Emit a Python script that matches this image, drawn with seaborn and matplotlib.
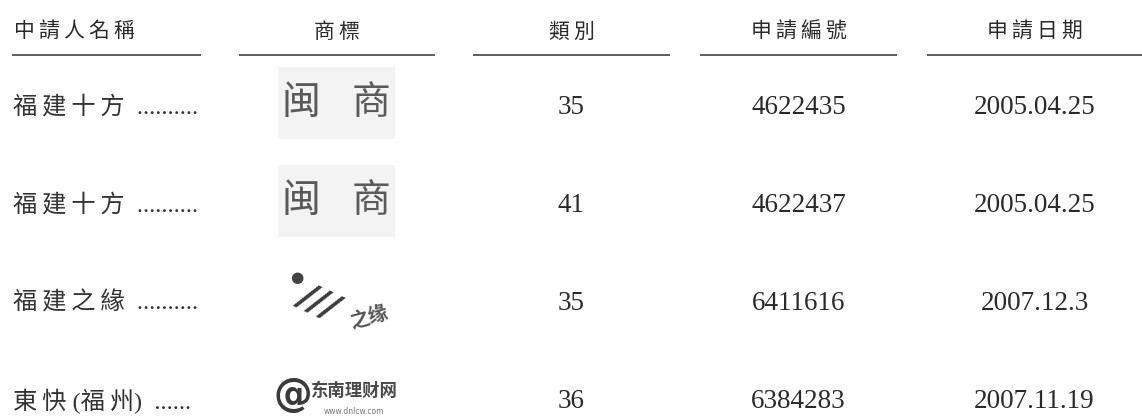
import matplotlib
matplotlib.use("Agg")
import matplotlib.pyplot as plt
import seaborn as sns
import pandas as pd

# table content
headers = ["中請人名稱", "商標", "類別", "申請編號", "申請日期"]
applicants = ["福建十方", "福建十方", "福建之緣", "東快 (福州)"]
leaders = ["  ..........", "  ..........", "  ..........", "  ......"]
classes = ["35", "41", "35", "36"]
app_numbers = ["4622435", "4622437", "6411616", "6384283"]
app_dates = ["2005.04.25", "2005.04.25", "2007.12.3", "2007.11.19"]
logo_texts = ["闽商", "闽商", "之缘", "东南理财网"]

df = pd.DataFrame({
    "applicant": applicants,
    "leader": leaders,
    "cls": classes,
    "number": app_numbers,
    "date": app_dates,
    "logo": logo_texts,
})

sns.set_theme(style="white")
plt.rcParams["font.family"] = ["Noto Sans CJK TC", "DejaVu Sans"]

W, H = 1142, 420
fig = plt.figure(figsize=(W / 100, H / 100), dpi=100)
ax = fig.add_axes([0, 0, 1, 1])
ax.set_xlim(0, W)
ax.set_ylim(H, 0)
ax.axis("off")

# column layout (pixels)
col_spans = [(12, 201), (239, 435), (473, 670), (700, 897), (927, 1142)]
header_y = 32
rule_y = 55
row_y0, row_step = 107, 98

dark = "#2a2a2a"
cjk = ["Noto Sans CJK TC", "DejaVu Sans"]
serif = ["Liberation Serif", "DejaVu Serif"]
mixed = ["Liberation Serif", "Noto Sans CJK TC"]


def spaced(s):
    # thin space between neighbouring CJK characters
    out = ""
    for a, b in zip(s, s[1:] + " "):
        out += a
        if ord(a) > 0x2E80 and ord(b) > 0x2E80:
            out += "\u2009"
    return out


# header row
for i, (name, (x0, x1)) in enumerate(zip(headers, col_spans)):
    label = "\u2009".join(name)
    if i == 0:
        ax.text(x0 + 2, header_y, label, ha="left", va="center", fontsize=15,
                family=cjk, weight="medium", color=dark)
    else:
        ax.text((x0 + x1) / 2, header_y, label, ha="center", va="center",
                fontsize=15, family=cjk, weight="medium", color=dark)
    ax.hlines(rule_y, x0, x1, color="#333333", lw=1.1)

centers = [(a + b) / 2 for a, b in col_spans]

for r, row in df.iterrows():
    y = row_y0 + r * row_step
    # applicant name + leader dots
    ax.text(col_spans[0][0] + 1, y, spaced(row["applicant"]) + row["leader"], ha="left",
            va="center", fontsize=17.5, family=mixed, weight="light", color="#333333")

    # numeric columns
    for c, key in zip([2, 3, 4], ["cls", "number", "date"]):
        ax.text(centers[c], y, row[key], ha="center", va="center",
                fontsize=19.5, family=serif, color=dark)

    # trademark (approximated with text)
    cx = centers[1]
    if r < 2:
        ax.add_patch(plt.Rectangle((cx - 59, y - 40), 117, 72, color="#f3f3f3", lw=0))
        for k, ch in enumerate(row["logo"]):
            ax.text(cx - 36 + 70 * k, y - 4, ch, ha="center", va="center", fontsize=28,
                    family=["Noto Sans CJK SC"], weight="light", color="#5a5a5a")
    elif r == 2:
        ax.text(cx - 40, y - 26, "●", ha="center", va="center", fontsize=11,
                family=["DejaVu Sans"], color="#444444")
        ax.text(cx - 18, y - 2, "///", ha="center", va="center", fontsize=26,
                family=["DejaVu Sans"], weight="bold", style="italic",
                color="#3c3c3c", rotation=-25)
        ax.text(cx + 32, y + 14, row["logo"], ha="center", va="center", fontsize=14,
                family=["Noto Sans CJK SC"], weight="bold", style="italic",
                color="#555555", rotation=15)
    else:
        ax.text(cx - 44, y - 6, "@", ha="center", va="center", fontsize=28,
                family=["DejaVu Sans"], weight="bold", color="#3a3a3a")
        ax.text(cx + 17, y - 10, row["logo"], ha="center", va="center", fontsize=12.5,
                family=["Noto Sans CJK SC"], weight="bold", color="#4a4a4a")
        ax.text(cx + 17, y + 10, "www.dnlcw.com", ha="center", va="center",
                fontsize=5.5, family=["DejaVu Sans"], color="#777777")

fig.savefig("out.png", dpi=100)
